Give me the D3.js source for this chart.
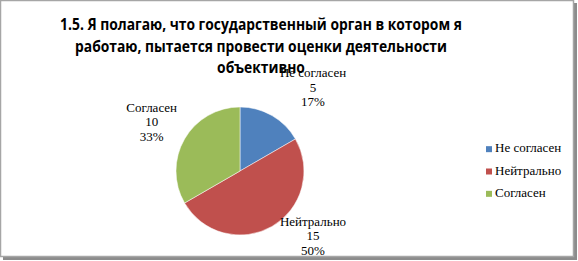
<!DOCTYPE html>
<html>
<head>
<meta charset="utf-8">
<script src="https://cdn.jsdelivr.net/npm/d3@7"></script>
<style>
  html, body { margin: 0; padding: 0; background: #fff; }
  svg { display: block; }
  .serif { font-family: 'Liberation Serif', 'DejaVu Serif', serif; }
</style>
</head>
<body>
<svg id="chart" width="578" height="261"></svg>
<script>
// данные диаграммы
const categories = ['Не согласен', 'Нейтрально', 'Согласен'];
const counts = [5, 15, 10];
const percents = ['17%', '50%', '33%'];
const colors = ['#4F81BD', '#C0504D', '#9BBB59'];
const titleLines = [
  '1.5. Я полагаю, что государственный орган в котором я',
  'работаю, пытается провести оценки деятельности',
  'объективно'
];

const svg = d3.select('#chart');
const W = 578, H = 261;

// рамка с тенью
svg.append('rect')
  .attr('x', 3).attr('y', 3).attr('width', W - 4).attr('height', H - 4)
  .attr('fill', '#8c8c8c');
svg.append('rect')
  .attr('x', 0.5).attr('y', 0.5).attr('width', W - 5).attr('height', H - 5)
  .attr('fill', '#fff').attr('stroke', '#a6a6a6').attr('stroke-width', 1.5);

// заголовок (сжат по ширине, как Calibri)
const title = svg.append('g')
  .attr('font-family', 'Open Sans, sans-serif')
  .attr('font-weight', 'bold')
  .attr('font-size', 16)
  .attr('fill', '#000')
  .attr('text-anchor', 'middle');

const lineY = [30, 52, 73];
const t = title.selectAll('text')
  .data(titleLines)
  .join('text')
  .attr('x', 0)
  .attr('y', (d, i) => lineY[i])
  .text(d => d);
const k = 402 / t.node().getComputedTextLength();
title.attr('transform', `translate(261,0) scale(${k},1)`);

// круговая диаграмма
const cx = 240, cy = 171, r = 64;
const pie = d3.pie().sort(null).value(d => d)(counts);
const arc = d3.arc().innerRadius(0).outerRadius(r);
const labelArc = d3.arc().innerRadius(102).outerRadius(102);

const g = svg.append('g').attr('transform', `translate(${cx},${cy})`);

g.selectAll('path')
  .data(pie)
  .join('path')
  .attr('d', arc)
  .attr('fill', (d, i) => colors[i])
  .attr('stroke', '#fff')
  .attr('stroke-width', 0.5);

// сдвиг подписей относительно точки на дуге
const nudge = [[22, 9], [22, -19], [0, 6]];

const labels = g.selectAll('g.lbl')
  .data(pie)
  .join('g')
  .attr('class', 'lbl serif')
  .attr('font-size', 13)
  .attr('fill', '#000')
  .attr('text-anchor', 'middle')
  .attr('transform', (d, i) => {
    const [x, y] = labelArc.centroid(d);
    return `translate(${x + nudge[i][0]},${y + nudge[i][1]})`;
  });

labels.each(function (d, i) {
  const lines = [categories[i], String(counts[i]), percents[i]];
  d3.select(this).selectAll('text')
    .data(lines)
    .join('text')
    .attr('y', (s, j) => (j - 1) * 14.5)
    .text(s => s);
});

// легенда
const legend = svg.append('g')
  .attr('class', 'serif')
  .attr('font-size', 13);

const ly = d3.scaleBand().domain(categories).range([141, 208]);

const item = legend.selectAll('g')
  .data(categories)
  .join('g')
  .attr('transform', d => `translate(486,${ly(d) + ly.bandwidth() / 2})`);

item.append('rect')
  .attr('x', 0).attr('y', -6)
  .attr('width', 6).attr('height', 6)
  .attr('fill', (d, i) => colors[i]);

item.append('text')
  .attr('x', 9).attr('y', 0)
  .text(d => d);
</script>
</body>
</html>
